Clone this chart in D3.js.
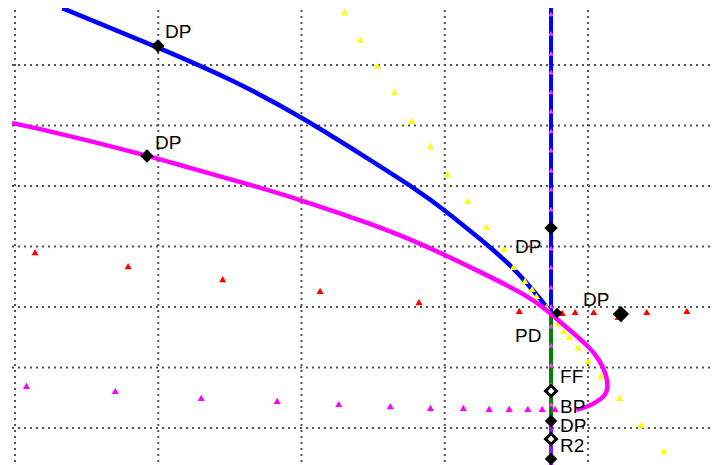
<!DOCTYPE html>
<html>
<head>
<meta charset="utf-8">
<script src="https://cdn.jsdelivr.net/npm/d3@7"></script>
<style>
body { margin: 0; background: #fff; }
svg { display: block; font-family: "Liberation Sans", Arial, sans-serif; }
</style>
</head>
<body>
<div id="chart-area"></div>
<script>
// grid ticks (temperature / pressure units, no labels shown)
const xTicks = [0, 100, 200, 300, 400];
const yTicks = [0, 1000, 2000, 3000, 4000, 5000, 6000];

// blue envelope branch
const blueX = [33, 99, 157, 200, 248, 281, 299, 325, 348, 369, 374];
const blueY = [6940, 6300, 5700, 5140, 4430, 3930, 3620, 3120, 2660, 2070, 1900];

// magenta envelope branch
const pinkX = [-2, 15, 92, 120, 157, 200, 250, 281, 325, 360, 375, 387, 401, 408, 413, 414, 412, 406, 399, 392];
const pinkY = [5040, 4960, 4510, 4310, 4070, 3770, 3360, 3075, 2580, 2165, 1870, 1620, 1340, 1125, 875, 660, 530, 430, 345, 300];

// red points
const redX = [14, 79, 145, 213, 282, 352, 382, 391, 404, 421, 441, 469];
const redY = [2890, 2660, 2445, 2250, 2065, 1920, 1885, 1900, 1900, 1820, 1900, 1920];

// yellow points
const yellowX = [230, 241, 253, 265, 277, 290, 302, 316, 329, 341, 348, 356, 361, 364, 371, 379, 383, 387, 393, 400, 409, 422, 437, 453];
const yellowY = [6860, 6400, 5970, 5540, 5060, 4645, 4180, 3735, 3305, 2940, 2645, 2415, 2280, 2165, 1985, 1705, 1585, 1490, 1320, 1090, 845, 480, 35, -395];

// low magenta points
const lowX = [8, 70, 130, 183, 226, 262, 290, 313, 331, 345, 358, 368, 377];
const lowY = [680, 595, 480, 430, 380, 345, 315, 315, 300, 300, 300, 300, 300];

// vertical line
const vX = 374.2;
const vBlueY = [7200, 1900];
const vGreenY = [1900, 85];
const vPurpleY = [85, -700];
const vTriY = [6830, 6510, 6180, 5870, 5540, 5225, 4895, 4580, 4250, 3935, 3605, 3290, 2960, 2645, 2315, 2000, 1670, 1355, 1025, 710, 380, 65, -265, -580];

// diamond markers and labels
const markX = [99.8, 92.1, 374.2, 423, 378.4, 374.2, 374.2, 374.2, 374.2];
const markY = [6314, 4496, 3306, 1884, 1901, 612, 116, -182, -512];
const markFill = [true, true, true, true, true, false, true, false, true];
const markLabel = ["DP", "DP", "DP", "DP", "PD", "FF", "BP", "DP", "R2"];

const W = 712, H = 465;
const svg = d3.select("#chart-area").append("svg")
    .attr("width", W)
    .attr("height", H);

const x = d3.scaleLinear().domain([0, 400]).range([15, 588]);
const y = d3.scaleLinear().domain([0, 6000]).range([428, 65]);

svg.append("clipPath").attr("id", "clip")
    .append("rect").attr("x", 10).attr("y", 8).attr("width", W - 10).attr("height", H - 8);

// grid
const grid = svg.append("g");
grid.selectAll(".h").data(yTicks).enter().append("line")
    .attr("x1", 12).attr("x2", W)
    .attr("y1", d => y(d)).attr("y2", d => y(d))
    .attr("stroke", "#555").attr("stroke-width", 2).attr("stroke-dasharray", "2,4");
grid.selectAll(".v").data(xTicks).enter().append("line")
    .attr("x1", d => x(d)).attr("x2", d => x(d))
    .attr("y1", 10).attr("y2", H)
    .attr("stroke", "#555").attr("stroke-width", 2).attr("stroke-dasharray", "2,4");

const g = svg.append("g").attr("clip-path", "url(#clip)");

// vertical line segments
const vseg = (ys, color) => g.append("line")
    .attr("x1", x(vX)).attr("x2", x(vX))
    .attr("y1", y(ys[0])).attr("y2", y(ys[1]))
    .attr("stroke", color).attr("stroke-width", 4);
vseg(vBlueY, "#0000ff");
vseg(vGreenY, "#008000");
vseg(vPurpleY, "#8020e0");

const tri = d3.symbol().type(d3.symbolTriangle).size(22);
const triSmall = d3.symbol().type(d3.symbolTriangle).size(12);

g.selectAll(".vt").data(vTriY).enter().append("path")
    .attr("d", triSmall)
    .attr("transform", d => "translate(" + x(vX) + "," + y(d) + ")")
    .attr("fill", "#ff40ff");

// curves
const curveLine = d3.line()
    .x(d => x(d[0]))
    .y(d => y(d[1]))
    .curve(d3.curveBasis);

g.append("path")
    .datum(blueX.map((v, i) => [v, blueY[i]]))
    .attr("d", curveLine)
    .attr("fill", "none").attr("stroke", "#0000ff").attr("stroke-width", 4.5);

// yellow points
g.selectAll(".yl").data(yellowX.map((v, i) => [v, yellowY[i]])).enter().append("path")
    .attr("d", tri)
    .attr("transform", d => "translate(" + x(d[0]) + "," + y(d[1]) + ")")
    .attr("fill", "#ffff00");

g.append("path")
    .datum(pinkX.map((v, i) => [v, pinkY[i]]))
    .attr("d", curveLine)
    .attr("fill", "none").attr("stroke", "#ff00ff").attr("stroke-width", 4.5);

// red points
g.selectAll(".rd").data(redX.map((v, i) => [v, redY[i]])).enter().append("path")
    .attr("d", tri)
    .attr("transform", d => "translate(" + x(d[0]) + "," + y(d[1]) + ")")
    .attr("fill", "#ff0000");

// low magenta points
g.selectAll(".lw").data(lowX.map((v, i) => [v, lowY[i]])).enter().append("path")
    .attr("d", tri)
    .attr("transform", d => "translate(" + x(d[0]) + "," + y(d[1]) + ")")
    .attr("fill", "#ff00ff");

// diamonds
const marks = markX.map((v, i) => ({ x: v, y: markY[i], fill: markFill[i], label: markLabel[i] }));
const sizes = [72, 72, 72, 110, 40, 60, 60, 60, 60];
g.selectAll(".dm").data(marks).enter().append("path")
    .attr("d", (d, i) => d3.symbol().type(d3.symbolSquare).size(sizes[i])())
    .attr("transform", d => "translate(" + x(d.x) + "," + y(d.y) + ") rotate(45)")
    .attr("fill", d => d.fill ? "#000" : "#fff")
    .attr("stroke", "#000")
    .attr("stroke-width", d => d.fill ? 1 : 3);

// labels
const offsets = [[7, -8], [8, -7], [-36, 25], [-38, -8], [-42, 29], [9, -8], [9, -8], [9, -7], [9, -7]];
svg.selectAll(".lb").data(marks).enter().append("text")
    .attr("x", (d, i) => x(d.x) + offsets[i][0])
    .attr("y", (d, i) => y(d.y) + offsets[i][1])
    .attr("font-size", "19px")
    .attr("fill", "#000")
    .text(d => d.label);
</script>
</body>
</html>
